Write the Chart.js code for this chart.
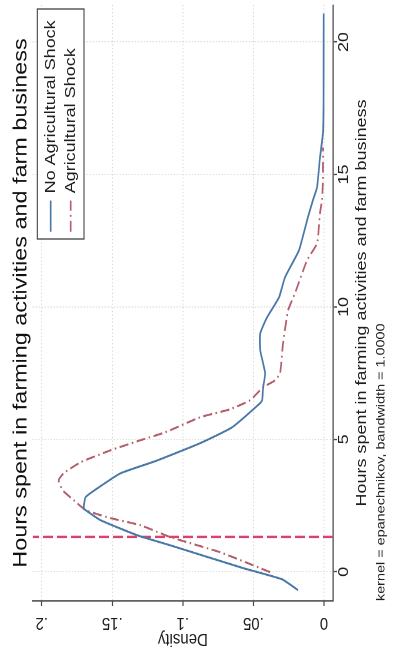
<!DOCTYPE html>
<html>
<head>
<meta charset="utf-8">
<title>Hours spent in farming activities and farm business</title>
<script src="https://cdn.jsdelivr.net/npm/chart.js@4.4.1/dist/chart.umd.min.js"></script>
<style>
    html, body { margin: 0; padding: 0; background: #fff; overflow: hidden; }
    body { width: 393px; height: 655px; position: relative; }
    /* the graph is drawn upright (546x393), then turned a quarter left and stretched along the hours axis */
    .graph {
        position: absolute;
        left: 0;
        top: 0;
        width: 546px;
        height: 393px;
        transform-origin: 0 0;
        transform: matrix(0, -1.2, 1, 0, 0, 655);
    }
</style>
</head>
<body>
<div class="graph"><canvas id="densityChart" width="546" height="393"></canvas></div>
<script>
// ---- data ----
const hoursTicks = [0, 5, 10, 15, 20];
const densityTicks = [0, 0.05, 0.1, 0.15, 0.2];
const densityLabels = ['0', '.05', '.1', '.15', '.2'];

const noShockHours = [-0.69, -0.28, 0.14, 1.00, 1.38, 1.95, 2.33, 2.40, 2.82, 3.16, 3.72, 4.18, 4.86, 5.46, 6.37, 6.48, 6.97, 7.50, 8.37, 9.00, 9.61, 10.37, 11.12, 12.14, 13.27, 14.03, 14.52, 15.65, 16.56, 17.80, 21.08];
const noShockDensity = [0.0184, 0.0297, 0.0572, 0.1088, 0.1322, 0.1583, 0.1689, 0.1703, 0.1689, 0.1604, 0.1442, 0.1195, 0.0876, 0.0650, 0.0452, 0.0438, 0.0431, 0.0417, 0.0452, 0.0452, 0.0403, 0.0318, 0.0276, 0.0177, 0.0120, 0.0078, 0.0049, 0.0028, 0.0007, 0.0003, 0.0002];

const shockHours = [-0.01, 0.74, 1.31, 1.76, 2.03, 2.33, 2.71, 3.08, 3.46, 3.72, 4.14, 4.59, 4.97, 5.27, 5.84, 6.14, 6.48, 6.97, 7.23, 7.50, 8.63, 9.88, 10.52, 11.76, 12.40, 13.54, 14.03, 14.78, 16.02];
const shockDensity = [0.0382, 0.0735, 0.1088, 0.1300, 0.1512, 0.1689, 0.1774, 0.1852, 0.1880, 0.1845, 0.1724, 0.1512, 0.1300, 0.1124, 0.0876, 0.0664, 0.0523, 0.0431, 0.0346, 0.0311, 0.0290, 0.0254, 0.0205, 0.0120, 0.0049, 0.0028, 0.0014, 0.0007, 0.0007];

const shockLineHours = 1.32; // vertical reference line

const hoursMin = -1.1;
const hoursMax = 21.4;
const densityMin = -0.0064;
const densityMax = 0.2064;

const FONT = "'Liberation Sans', Arial, sans-serif";
const TEXT = '#1e1e1e';
const GRID = 'rgba(185, 185, 185, 0.6)';
const AXIS = '#4a4a4a';

/**
 * Zip two value lists into {x, y} points.
 */
function toPoints(xs, ys) {
    return xs.map((x, i) => ({ x: x, y: ys[i] }));
}

/**
 * Density tick labels, turned like the axis title (Chart.js keeps y labels flat).
 */
const densityTickText = {
    id: 'densityTickText',
    afterDraw(chart) {
        const scale = chart.scales.y;
        const ctx = chart.ctx;
        ctx.save();
        ctx.font = '15px ' + FONT;
        ctx.fillStyle = TEXT;
        ctx.textAlign = 'center';
        ctx.textBaseline = 'middle';
        densityTicks.forEach((v, i) => {
            ctx.save();
            ctx.translate(scale.right - 18, scale.getPixelForValue(v));
            ctx.rotate(-Math.PI / 2);
            ctx.fillText(densityLabels[i], 0, 0);
            ctx.restore();
        });
        ctx.restore();
    }
};

/**
 * Stata style legend: framed box in the top right corner of the plot.
 */
const legendBox = {
    id: 'legendBox',
    afterDraw(chart) {
        const ctx = chart.ctx;
        const area = chart.chartArea;
        const w = 191.6, h = 46.7;
        const left = area.right - 3.4 - w;
        const top = area.top + 4.6;

        ctx.save();
        ctx.fillStyle = '#fff';
        ctx.fillRect(left, top, w, h);
        ctx.strokeStyle = '#333';
        ctx.lineWidth = 1;
        ctx.strokeRect(left, top, w, h);

        ctx.font = '15px ' + FONT;
        ctx.textBaseline = 'middle';
        [0, 1].forEach(i => {
            const ds = chart.data.datasets[i];
            const y = top + 13.4 + i * 20;
            ctx.beginPath();
            ctx.setLineDash(ds.borderDash || []);
            ctx.strokeStyle = ds.borderColor;
            ctx.lineWidth = ds.borderWidth;
            ctx.moveTo(left + 6, y);
            ctx.lineTo(left + 32, y);
            ctx.stroke();
            ctx.setLineDash([]);
            ctx.fillStyle = TEXT;
            ctx.fillText(ds.label, left + 38, y);
        });
        ctx.restore();
    }
};

Chart.defaults.font.family = FONT;
Chart.defaults.color = TEXT;

new Chart(document.getElementById('densityChart'), {
    type: 'line',
    data: {
        datasets: [
            {
                label: 'No Agricultural Shock',
                data: toPoints(noShockHours, noShockDensity),
                borderColor: '#4a78a6',
                borderWidth: 1.7,
                pointRadius: 0,
                tension: 0.15
            },
            {
                label: 'Agricultural Shock',
                data: toPoints(shockHours, shockDensity),
                borderColor: '#b55d69',
                borderWidth: 1.7,
                borderDash: [9, 3.5, 1.5, 3.5],
                pointRadius: 0,
                tension: 0.15
            },
            {
                label: 'reference',
                data: toPoints([shockLineHours, shockLineHours], [densityMin, densityMax]),
                borderColor: '#d8436e',
                borderWidth: 2,
                borderDash: [10, 4],
                pointRadius: 0,
                tension: 0
            }
        ]
    },
    options: {
        responsive: false,
        animation: false,
        devicePixelRatio: 2,
        layout: { padding: { left: 0, right: 4.3, top: 0, bottom: 0 } },
        plugins: {
            legend: { display: false },
            tooltip: { enabled: false },
            title: {
                display: true,
                text: 'Hours spent in farming activities and farm business',
                fullSize: false,
                color: '#111',
                font: { size: 19.5, weight: 'normal' },
                padding: { top: 9.3, bottom: 0 }
            },
            subtitle: {
                display: true,
                position: 'bottom',
                align: 'start',
                fullSize: false,
                text: 'kernel = epanechnikov, bandwidth = 1.0000',
                color: TEXT,
                font: { size: 12 },
                padding: { top: 2.8, bottom: 4.8 }
            }
        },
        scales: {
            x: {
                type: 'linear',
                position: 'bottom',
                min: hoursMin,
                max: hoursMax,
                afterBuildTicks: s => { s.ticks = hoursTicks.map(v => ({ value: v })); },
                afterFit: s => { s.height = 38; },
                ticks: { autoSkip: false, maxRotation: 0, padding: -2, font: { size: 15 }, color: TEXT },
                grid: { color: GRID, lineWidth: 1, tickLength: 4, tickColor: AXIS, tickWidth: 1.2 },
                border: { color: AXIS, width: 1.3, dash: [1, 2] },
                title: {
                    display: true,
                    text: 'Hours spent in farming activities and farm business',
                    font: { size: 15 },
                    color: TEXT,
                    padding: { top: 0, bottom: 0 }
                }
            },
            y: {
                type: 'linear',
                position: 'left',
                min: densityMin,
                max: densityMax,
                afterBuildTicks: s => { s.ticks = densityTicks.map(v => ({ value: v })); },
                afterFit: s => { s.width = 45; },
                ticks: { display: false },
                grid: { color: GRID, lineWidth: 1, tickLength: 4, tickColor: AXIS, tickWidth: 1.2 },
                border: { color: AXIS, width: 1.3, dash: [1, 2] },
                title: {
                    display: true,
                    text: 'Density',
                    font: { size: 15 },
                    color: TEXT,
                    padding: { top: 4.3, bottom: 0 }
                }
            }
        }
    },
    plugins: [densityTickText, legendBox]
});
</script>
</body>
</html>
